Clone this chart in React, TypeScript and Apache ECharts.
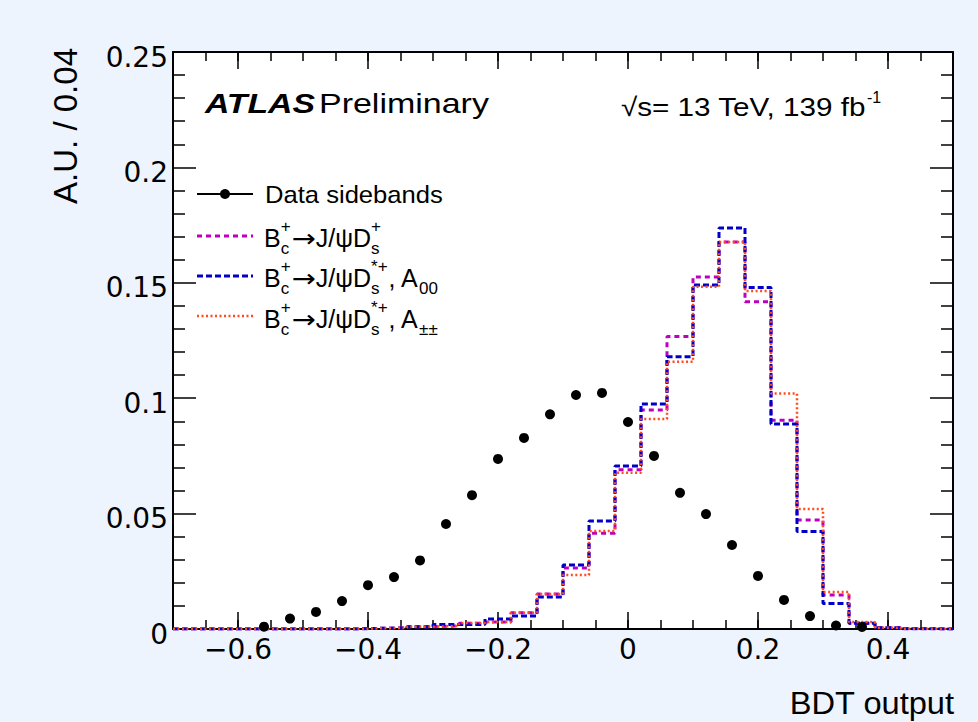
import React, { useEffect, useRef } from "react";
import * as echarts from "echarts";

// ---------------- data ----------------
const binCenters = [
  -0.68, -0.64, -0.6, -0.56, -0.52, -0.48, -0.44, -0.4, -0.36, -0.32,
  -0.28, -0.24, -0.2, -0.16, -0.12, -0.08, -0.04, 0.0, 0.04, 0.08,
  0.12, 0.16, 0.2, 0.24, 0.28, 0.32, 0.36, 0.4, 0.44, 0.48,
];
const binWidth = 0.04;

const dataSidebands = [
  null, null, null, 0.001, 0.0045, 0.0074, 0.0121, 0.019, 0.0225, 0.0297,
  0.0455, 0.058, 0.0737, 0.0828, 0.093, 0.1014, 0.1023, 0.0897, 0.075, 0.059,
  0.0498, 0.0364, 0.023, 0.0126, 0.0056, 0.0015, 0.0009, null, null, null,
];
const bcDs = [
  0, 0, 0, 0, 0, 0, 0, 0.0003, 0.0005, 0.001,
  0.0013, 0.0025, 0.003, 0.007, 0.0152, 0.0264, 0.0415, 0.069, 0.0949, 0.1267,
  0.1525, 0.1677, 0.1418, 0.0905, 0.0472, 0.0147, 0.0025, 0.0005, 0.0001, 0,
];
const bcDsStarA00 = [
  0, 0, 0, 0, 0, 0, 0, 0.0003, 0.0004, 0.001,
  0.002, 0.002, 0.0043, 0.0056, 0.0139, 0.0277, 0.0468, 0.0706, 0.0975, 0.118,
  0.149, 0.1737, 0.148, 0.0888, 0.0422, 0.011, 0.0025, 0.0005, 0.0001, 0,
];
const bcDsStarApm = [
  0, 0, 0, 0, 0, 0, 0, 0.0003, 0.0005, 0.001,
  0.0013, 0.0026, 0.003, 0.007, 0.0152, 0.0234, 0.0425, 0.0677, 0.091, 0.1158,
  0.1483, 0.1677, 0.1464, 0.102, 0.052, 0.016, 0.003, 0.0005, 0.0001, 0,
];

const xMajorTicks = [-0.6, -0.4, -0.2, 0, 0.2, 0.4];
const xMinorTicks = [
  -0.7, -0.65, -0.6, -0.55, -0.5, -0.45, -0.4, -0.35, -0.3, -0.25, -0.2, -0.15,
  -0.1, -0.05, 0, 0.05, 0.1, 0.15, 0.2, 0.25, 0.3, 0.35, 0.4, 0.45, 0.5,
];

// ---------------- styles ----------------
const FONT = "Liberation Sans";
const TICKFONT = "DejaVu Sans";
const C_MAG = "#BE00BE";
const C_BLUE = "#0000C8";
const C_ORANGE = "#FF4B1E";
const DASH_MAG = [5, 4];
const DASH_BLUE = [6, 3];
const DASH_OR = [2, 2.5];

let ctx: CanvasRenderingContext2D | null = null;
function measure(t: string, size: number, weight = "normal", style = "normal", family = FONT) {
  if (!ctx) ctx = document.createElement("canvas").getContext("2d");
  ctx!.font = `${style} ${weight} ${size}px "${family}"`;
  return ctx!.measureText(t).width;
}

function txt(x: number, y: number, t: string, size: number, extra: any = {}) {
  const { scaleX, rotation, ...style } = extra;
  return {
    type: "text",
    x,
    y,
    scaleX: scaleX ?? 1,
    rotation: rotation ?? 0,
    silent: true,
    style: {
      text: t,
      fontFamily: FONT,
      fontSize: size,
      fill: "#000",
      align: "left",
      textAlign: "left",
      verticalAlign: "middle",
      textVerticalAlign: "middle",
      ...style,
    },
  };
}

function fitted(x: number, y: number, t: string, size: number, width: number, extra: any = {}) {
  const w = measure(t, size, extra.fontWeight || "normal", extra.fontStyle || "normal", extra.fontFamily || FONT);
  return txt(x, y, t, size, { ...extra, scaleX: width / w });
}

type Piece = { t?: string; sup?: string; sub?: string; font?: string; sx?: number };
function scriptRow(x0: number, yc: number, pieces: Piece[]) {
  const els: any[] = [];
  const big = 25;
  const small = 17;
  let x = x0;
  for (const p of pieces) {
    if (p.t) {
      const fam = p.font || FONT;
      const sx = p.sx || 1;
      els.push(txt(x, yc, p.t, big, { fontFamily: fam, scaleX: sx }));
      x += measure(p.t, big, "normal", "normal", fam) * sx;
    } else {
      let w = 0;
      if (p.sup) {
        els.push(txt(x, yc - 12, p.sup, small));
        w = Math.max(w, measure(p.sup, small));
      }
      if (p.sub) {
        els.push(txt(x, yc + 10, p.sub, small));
        w = Math.max(w, measure(p.sub, small));
      }
      x += w + 1;
    }
  }
  return els;
}

function histData(vals: number[]) {
  const pts: number[][] = vals.map((v, i) => [binCenters[i] - binWidth / 2, v]);
  const last = vals.length - 1;
  pts.push([binCenters[last] + binWidth / 2, vals[last]]);
  return pts;
}

function fmt(v: number) {
  const s = String(Math.round(v * 100) / 100);
  return s.replace("-", "\u2212");
}

const ARROW: Piece = { t: "\u2192", font: "DejaVu Sans", sx: 1.15 };
const BC: Piece[] = [{ t: "B" }, { sup: "+", sub: "c" }, ARROW, { t: "J/\u03C8D" }];

export default function App() {
  const ref = useRef<HTMLDivElement>(null);
  useEffect(() => {
    if (!ref.current) return;
    const chart = echarts.init(ref.current, null, { renderer: "svg" });

    const lx0 = 197;
    const lx1 = 253;
    const legendRows = [194, 236, 276, 316];

    const graphic: any[] = [
      // ATLAS label
      fitted(205, 104, "ATLAS", 28, 110, { fontWeight: "bold", fontStyle: "italic" }),
      fitted(319, 104, "Preliminary", 28, 170),
      fitted(621, 107, "\u221As= 13 TeV, 139 fb", 26, 245),
      txt(867, 97, "-1", 16),
      // axis titles
      txt(65, 48, "A.U. / 0.04", 33, { rotation: Math.PI / 2, align: "right", textAlign: "right" }),
      fitted(954, 703, "BDT output", 31, 165, { align: "right", textAlign: "right" }),
      // legend samples
      { type: "line", silent: true, shape: { x1: lx0, y1: legendRows[0], x2: lx1, y2: legendRows[0] }, style: { stroke: "#000", lineWidth: 2 } },
      { type: "circle", silent: true, shape: { cx: (lx0 + lx1) / 2, cy: legendRows[0], r: 5 }, style: { fill: "#000" } },
      { type: "line", silent: true, shape: { x1: lx0, y1: legendRows[1], x2: lx1, y2: legendRows[1] }, style: { stroke: C_MAG, lineWidth: 3, lineDash: DASH_MAG } },
      { type: "line", silent: true, shape: { x1: lx0, y1: legendRows[2], x2: lx1, y2: legendRows[2] }, style: { stroke: C_BLUE, lineWidth: 3, lineDash: DASH_BLUE } },
      { type: "line", silent: true, shape: { x1: lx0, y1: legendRows[3], x2: lx1, y2: legendRows[3] }, style: { stroke: C_ORANGE, lineWidth: 2.5, lineDash: DASH_OR } },
      fitted(265, 195, "Data sidebands", 24, 178),
      ...scriptRow(264, 238, [...BC, { sup: "+", sub: "s" }]),
      ...scriptRow(264, 278, [...BC, { sup: "*+", sub: "s" }, { t: ", A" }, { sub: "00" }]),
      ...scriptRow(264, 319, [...BC, { sup: "*+", sub: "s" }, { t: ", A" }, { sub: "\u00B1\u00B1" }]),
    ];

    const axisLineStyle = { color: "#000", width: 2 };
    const tickStyle = { color: "#000", width: 1.5 };
    const labelStyle = { color: "#000", fontFamily: TICKFONT, fontSize: 28 };

    const baseX = { type: "value", min: -0.7, max: 0.5, gridIndex: 0, splitLine: { show: false } };

    chart.setOption({
      animation: false,
      backgroundColor: "#EEF4FD",
      grid: { left: 173, top: 52, right: 25, bottom: 93, show: true, backgroundColor: "#fff", borderWidth: 0 },
      xAxis: [
        {
          ...baseX,
          position: "bottom",
          axisLine: { show: true, onZero: false, lineStyle: axisLineStyle },
          axisTick: { show: true, inside: true, length: 17, customValues: xMajorTicks, lineStyle: tickStyle },
          axisLabel: { show: true, customValues: xMajorTicks, formatter: (v: number) => fmt(v), margin: 6, ...labelStyle },
        },
        {
          ...baseX,
          position: "bottom",
          axisLine: { show: false, onZero: false },
          axisTick: { show: true, inside: true, length: 9, customValues: xMinorTicks, lineStyle: tickStyle },
          axisLabel: { show: false },
        },
        {
          ...baseX,
          position: "top",
          axisLine: { show: true, onZero: false, lineStyle: axisLineStyle },
          axisTick: { show: true, inside: true, length: 17, customValues: xMajorTicks, lineStyle: tickStyle },
          axisLabel: { show: false },
        },
        {
          ...baseX,
          position: "top",
          axisLine: { show: false, onZero: false },
          axisTick: { show: true, inside: true, length: 9, customValues: xMinorTicks, lineStyle: tickStyle },
          axisLabel: { show: false },
        },
      ],
      yAxis: [
        {
          type: "value",
          min: 0,
          max: 0.25,
          interval: 0.05,
          position: "left",
          splitLine: { show: false },
          axisLine: { show: true, onZero: false, lineStyle: axisLineStyle },
          axisTick: { show: true, inside: true, length: 23, lineStyle: tickStyle },
          minorTick: { show: true, splitNumber: 5, length: 12, lineStyle: tickStyle },
          axisLabel: {
            show: true,
            margin: 5,
            formatter: (v: number) => `{v|${fmt(v)}}`,
            rich: { v: { ...labelStyle, padding: [10, 0, 0, 0] } },
            ...labelStyle,
          },
        },
        {
          type: "value",
          min: 0,
          max: 0.25,
          interval: 0.05,
          position: "right",
          splitLine: { show: false },
          axisLine: { show: true, onZero: false, lineStyle: axisLineStyle },
          axisTick: { show: true, inside: true, length: 23, lineStyle: tickStyle },
          minorTick: { show: true, splitNumber: 5, length: 12, lineStyle: tickStyle },
          axisLabel: { show: false },
        },
      ],
      series: [
        {
          name: "Bc -> J/psi Ds+",
          type: "line",
          step: "end",
          symbol: "none",
          data: histData(bcDs),
          lineStyle: { color: C_MAG, width: 3, type: DASH_MAG },
          z: 2,
        },
        {
          name: "Bc -> J/psi Ds*+, A00",
          type: "line",
          step: "end",
          symbol: "none",
          data: histData(bcDsStarA00),
          lineStyle: { color: C_BLUE, width: 3, type: DASH_BLUE },
          z: 3,
        },
        {
          name: "Bc -> J/psi Ds*+, A++",
          type: "line",
          step: "end",
          symbol: "none",
          data: histData(bcDsStarApm),
          lineStyle: { color: C_ORANGE, width: 2.5, type: DASH_OR },
          z: 4,
        },
        {
          name: "Data sidebands",
          type: "scatter",
          symbol: "circle",
          symbolSize: 10,
          itemStyle: { color: "#000", opacity: 1 },
          data: binCenters.map((c, i) => [c, dataSidebands[i]]).filter((p) => p[1] !== null),
          z: 5,
        },
      ],
      graphic,
    });
    return () => chart.dispose();
  }, []);

  return (
    <div
      ref={ref}
      style={{ position: "absolute", left: 0, top: 0, width: 978, height: 722, background: "#EEF4FD" }}
    />
  );
}
